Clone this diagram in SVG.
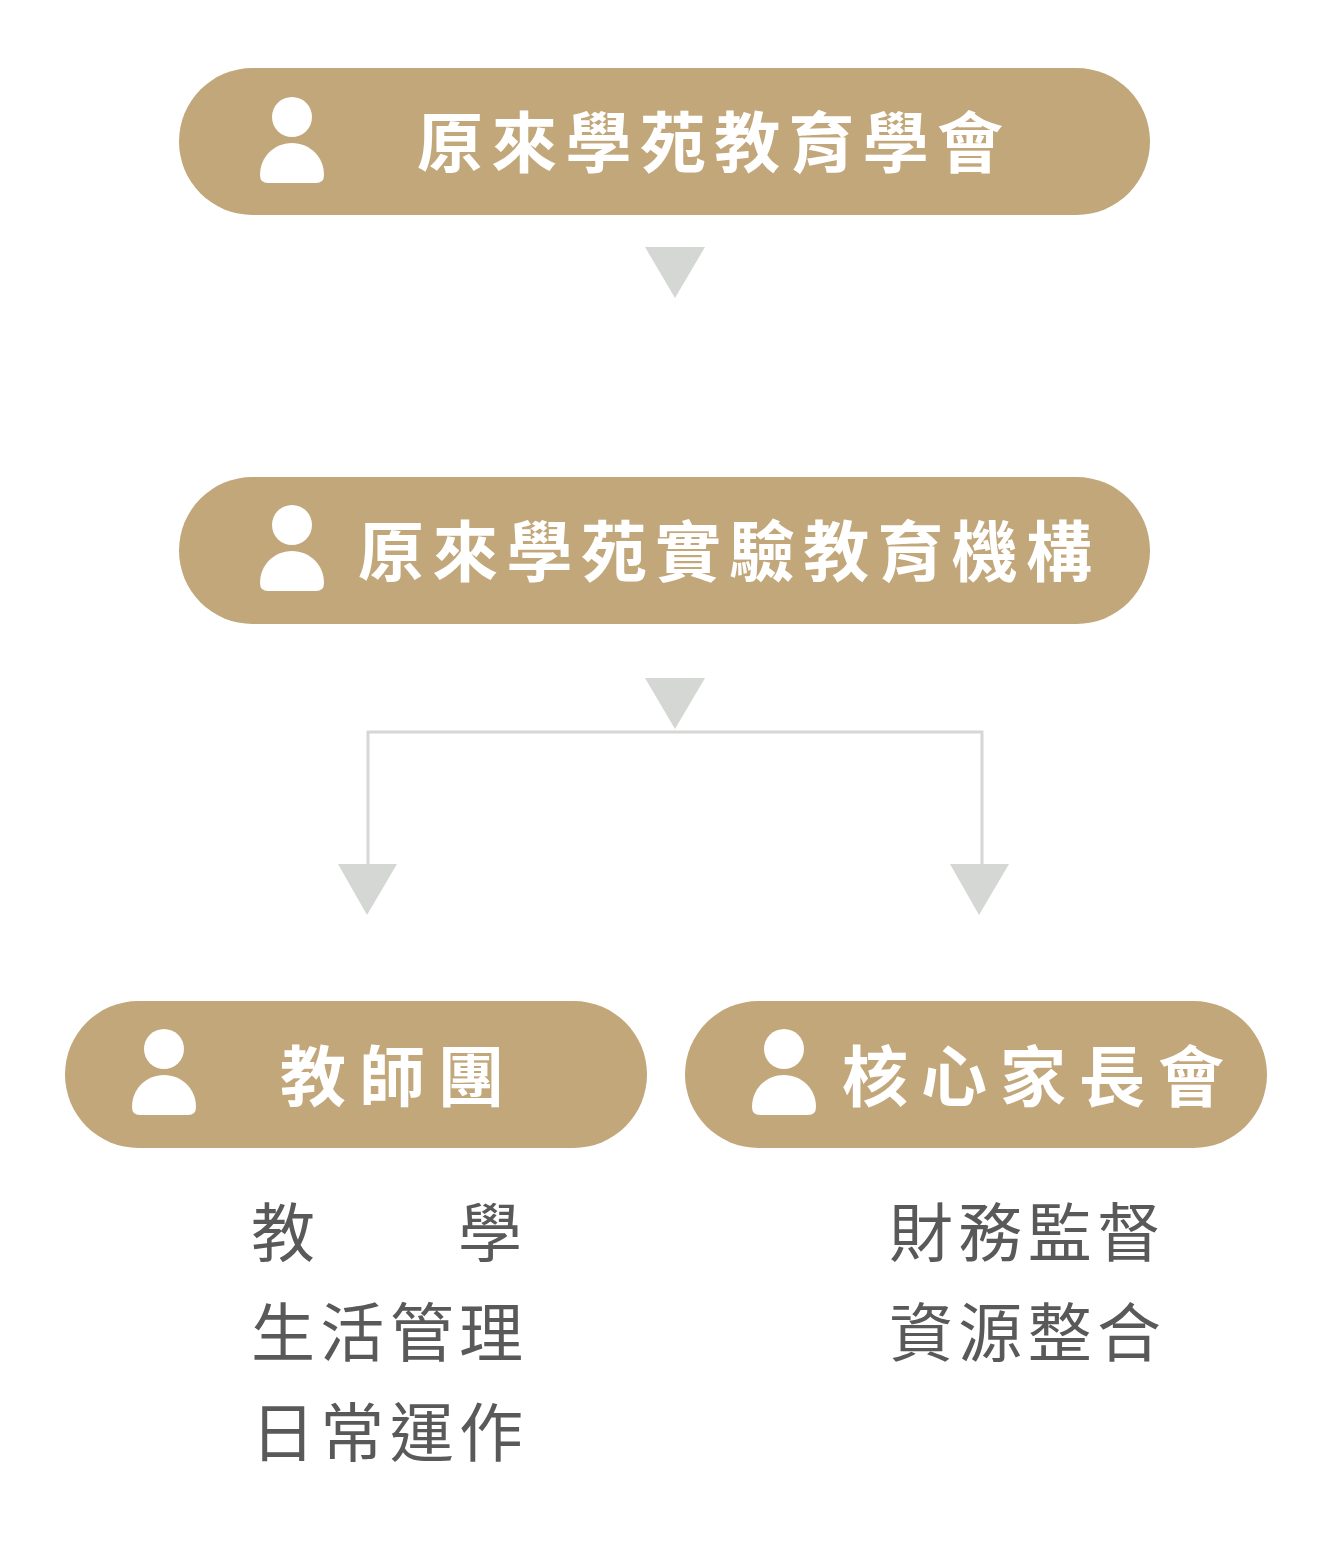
<svg xmlns="http://www.w3.org/2000/svg" width="1321" height="1552" viewBox="0 0 1321 1552">
<style>
.pill{fill:#c1a77a}
.tri{fill:#d5d7d4}
.ico{fill:#fff}
.conn{fill:none;stroke:#d5d7d4;stroke-width:3}
.h{font-family:"Noto Sans CJK TC","Noto Sans CJK JP",sans-serif;font-weight:700;font-size:66px;fill:#fff;dominant-baseline:auto}
.b{font-family:"Noto Sans CJK TC","Noto Sans CJK JP",sans-serif;font-weight:400;font-size:64px;fill:#595959}
</style>
<defs>
<g id="person"><circle cx="32" cy="20" r="20" class="ico"/><path class="ico" d="M0 78C0 60 14 46 32 46S64 60 64 78Q64 86 56 86H8Q0 86 0 78Z"/></g>
</defs>
<rect width="1321" height="1552" fill="#fff"/>
<g id="connectors">
<path class="conn" d="M368 864V732H982V864"/>
<polygon class="tri" points="645,247 705,247 675,298"/>
<polygon class="tri" points="645,678 705,678 675,729"/>
<polygon class="tri" points="338,864 397,864 367,915"/>
<polygon class="tri" points="950,864 1009,864 979,915"/>
</g>
<g id="n1"><rect class="pill" x="179" y="68" width="971" height="147" rx="73.5"/><use href="#person" x="260" y="97"/>
<text class="h" x="417" y="167" textLength="586" lengthAdjust="spacing">原來學苑教育學會</text></g>
<g id="n2"><rect class="pill" x="179" y="477" width="971" height="147" rx="73.5"/><use href="#person" x="260" y="505"/>
<text class="h" x="358" y="576" textLength="734" lengthAdjust="spacing">原來學苑實驗教育機構</text></g>
<g id="n3"><rect class="pill" x="65" y="1001" width="582" height="147" rx="73.5"/><use href="#person" x="132" y="1029"/>
<text class="h" x="280" y="1101" textLength="224" lengthAdjust="spacing">教師團</text></g>
<g id="n4"><rect class="pill" x="685" y="1001" width="582" height="147" rx="73.5"/><use href="#person" x="752" y="1029"/>
<text class="h" x="842" y="1101" textLength="382" lengthAdjust="spacing">核心家長會</text></g>
<g id="t3">
<text class="b" x="251" y="1256">教</text><text class="b" x="458" y="1256">學</text>
<text class="b" x="251" y="1356" textLength="272" lengthAdjust="spacing">生活管理</text>
<text class="b" x="251" y="1456" textLength="272" lengthAdjust="spacing">日常運作</text>
</g>
<g id="t4">
<text class="b" x="889" y="1256" textLength="272" lengthAdjust="spacing">財務監督</text>
<text class="b" x="889" y="1356" textLength="272" lengthAdjust="spacing">資源整合</text>
</g>
</svg>
